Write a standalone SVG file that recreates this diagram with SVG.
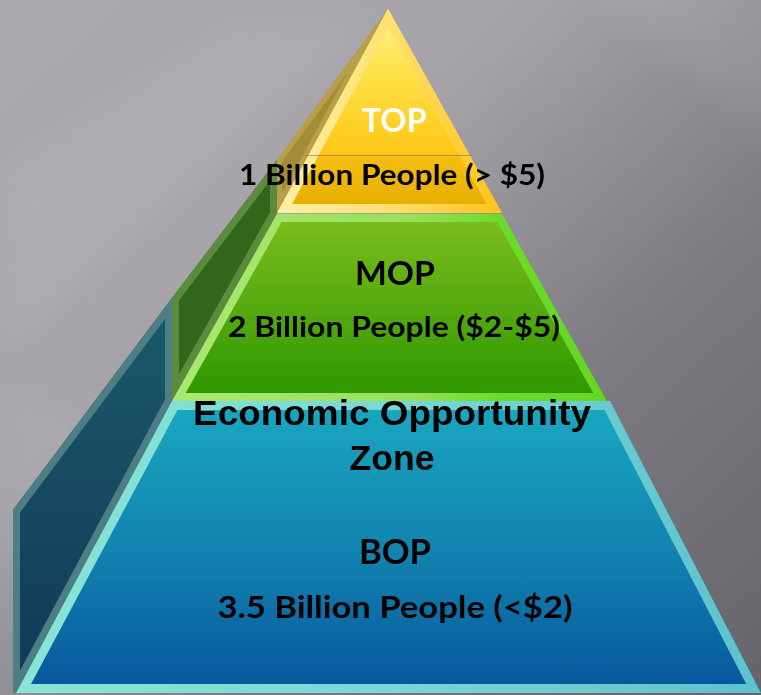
<svg xmlns="http://www.w3.org/2000/svg" width="761" height="695" viewBox="0 0 761 695">
<style>
.lbl{font-family:Lato,"Liberation Sans",Arial,sans-serif;font-weight:bold;text-anchor:middle}
.arial{font-family:"Liberation Sans",Arial,sans-serif;font-weight:bold;text-anchor:middle}
</style>
<defs>
<linearGradient id="bg" x1="0" y1="0" x2="1" y2="1">
<stop offset="0" stop-color="#ACAAAF"/>
<stop offset="0.35" stop-color="#A6A4A9"/>
<stop offset="0.65" stop-color="#7E7C82"/>
<stop offset="1" stop-color="#66646A"/>
</linearGradient>
<filter id="soft" x="-20%" y="-20%" width="140%" height="140%"><feGaussianBlur stdDeviation="18"/></filter>
<linearGradient id="gY" x1="0" y1="9" x2="0" y2="213" gradientUnits="userSpaceOnUse">
<stop offset="0" stop-color="#FFF29A"/>
<stop offset="0.3" stop-color="#FFE24A"/>
<stop offset="0.7" stop-color="#FDC818"/>
<stop offset="0.72" stop-color="#F6BE10"/>
<stop offset="1" stop-color="#E4AC00"/>
</linearGradient>
<linearGradient id="sY" x1="277" y1="0" x2="502" y2="0" gradientUnits="userSpaceOnUse">
<stop offset="0" stop-color="#FFF0A8"/>
<stop offset="0.5" stop-color="#FFE070"/>
<stop offset="1" stop-color="#FFC21A"/>
</linearGradient>
<linearGradient id="gG" x1="0" y1="214" x2="0" y2="401" gradientUnits="userSpaceOnUse">
<stop offset="0" stop-color="#7EBE1E"/>
<stop offset="1" stop-color="#2C9600"/>
</linearGradient>
<linearGradient id="sG" x1="172" y1="0" x2="607" y2="0" gradientUnits="userSpaceOnUse">
<stop offset="0" stop-color="#AAE872"/>
<stop offset="0.55" stop-color="#98E05C"/>
<stop offset="0.75" stop-color="#6CDC2C"/>
<stop offset="1" stop-color="#66D626"/>
</linearGradient>
<linearGradient id="gB" x1="0" y1="401" x2="0" y2="693" gradientUnits="userSpaceOnUse">
<stop offset="0" stop-color="#1AA8C0"/>
<stop offset="0.5" stop-color="#1284B0"/>
<stop offset="1" stop-color="#07559C"/>
</linearGradient>
<linearGradient id="sB" x1="16" y1="0" x2="760" y2="0" gradientUnits="userSpaceOnUse">
<stop offset="0" stop-color="#8AE4D6"/>
<stop offset="0.5" stop-color="#7AD8D4"/>
<stop offset="1" stop-color="#5CC2CE"/>
</linearGradient>
<linearGradient id="gBs" x1="0" y1="298" x2="0" y2="693" gradientUnits="userSpaceOnUse">
<stop offset="0" stop-color="#1B5A6A"/>
<stop offset="1" stop-color="#123858"/>
</linearGradient>
<polygon id="pY" points="388,9 502,213 277,213"/>
<polygon id="pG" points="277,214 502,214 607,401 172,401"/>
<polygon id="pB" points="172,401 610,401 761,693 16,693"/>
<polygon id="pYs" points="388,9 277,160 277,213"/>
<polygon id="pGs" points="277,160 277,214 172,401 172,298"/>
<polygon id="pBs" points="172,298 172,401 16,693 13,693 13,510"/>
<clipPath id="cY"><use href="#pY"/></clipPath>
<clipPath id="cG"><use href="#pG"/></clipPath>
<clipPath id="cB"><use href="#pB"/></clipPath>
<clipPath id="cYs"><use href="#pYs"/></clipPath>
<clipPath id="cGs"><use href="#pGs"/></clipPath>
<clipPath id="cBs"><use href="#pBs"/></clipPath>
</defs>
<rect width="761" height="695" fill="url(#bg)"/>
<g filter="url(#soft)">
<polygon points="0,180 240,20 380,20 0,360" fill="#FFFFFF" opacity="0.07"/>
<polygon points="560,-40 800,-40 800,160" fill="#FFFFFF" opacity="0.08"/>
<polygon points="0,380 120,420 0,600" fill="#FFFFFF" opacity="0.06"/>
</g>

<g id="side-faces">
<use href="#pYs" fill="#A38C36"/>
<use href="#pYs" fill="none" stroke="#B8A04A" stroke-width="10" clip-path="url(#cYs)"/>
<use href="#pGs" fill="#33651A"/>
<use href="#pGs" fill="none" stroke="#5B8C3E" stroke-width="14" clip-path="url(#cGs)"/>
<use href="#pBs" fill="url(#gBs)"/>
<use href="#pBs" fill="none" stroke="#4C7E84" stroke-width="14" clip-path="url(#cBs)"/>
</g>

<g id="top-tier">
<use href="#pY" fill="url(#gY)"/>
<use href="#pY" fill="none" stroke="url(#sY)" stroke-width="18" clip-path="url(#cY)"/>
<line x1="292" y1="155.5" x2="472" y2="155.5" stroke="#A08C58" stroke-width="1" opacity="0.8"/>
<text class="lbl" x="394" y="132" font-size="32" fill="#FFFFFF" textLength="65" lengthAdjust="spacingAndGlyphs">TOP</text>
<text class="lbl" x="392" y="185" font-size="28" fill="#000000" textLength="306" lengthAdjust="spacingAndGlyphs">1 Billion People (&gt; $5)</text>
</g>

<g id="middle-tier">
<use href="#pG" fill="url(#gG)"/>
<use href="#pG" fill="none" stroke="url(#sG)" stroke-width="16" clip-path="url(#cG)"/>
<text class="lbl" x="395" y="285" font-size="32" fill="#000000" textLength="80" lengthAdjust="spacingAndGlyphs">MOP</text>
<text class="lbl" x="394" y="337" font-size="28" fill="#000000" textLength="332" lengthAdjust="spacingAndGlyphs">2 Billion People ($2-$5)</text>
</g>

<g id="bottom-tier">
<use href="#pB" fill="url(#gB)"/>
<use href="#pB" fill="none" stroke="url(#sB)" stroke-width="18" clip-path="url(#cB)"/>
<text class="lbl" x="395" y="564" font-size="34" fill="#000000" textLength="72" lengthAdjust="spacingAndGlyphs">BOP</text>
<text class="lbl" x="395" y="618" font-size="30" fill="#000000" textLength="355" lengthAdjust="spacingAndGlyphs">3.5 Billion People (&lt;$2)</text>
</g>

<g id="zone-label">
<text class="arial" x="392" y="425" font-size="35" fill="#000000" textLength="398" lengthAdjust="spacingAndGlyphs">Economic Opportunity</text>
<text class="arial" x="392" y="470" font-size="35" fill="#000000" textLength="85" lengthAdjust="spacingAndGlyphs">Zone</text>
</g>

<g id="connectors"></g>
</svg>
